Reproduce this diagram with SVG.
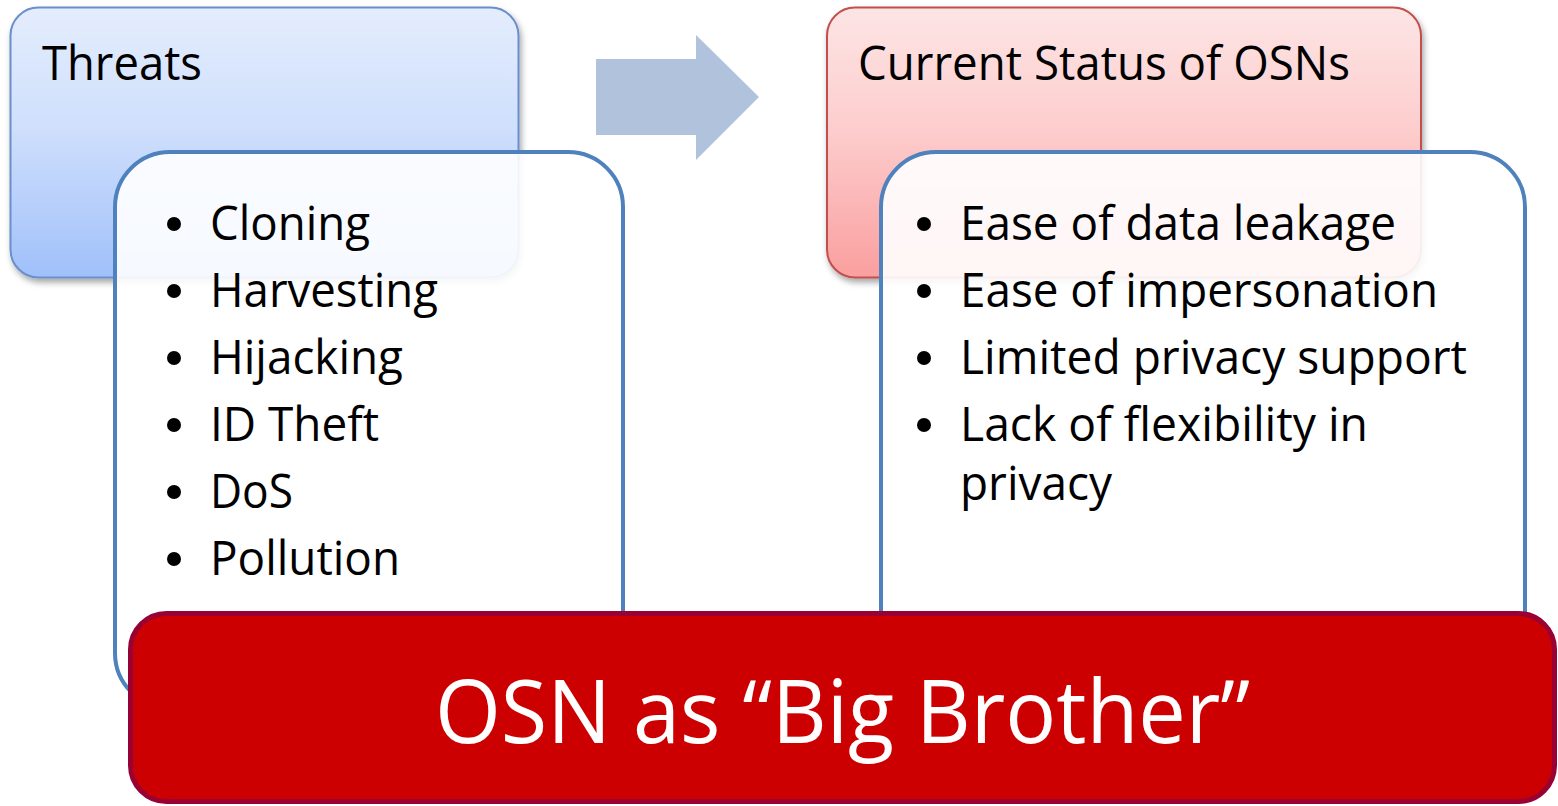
<svg xmlns="http://www.w3.org/2000/svg" width="1558" height="806" viewBox="0 0 1558 806">
  <defs>
    <linearGradient id="gradBlue" x1="0" y1="0" x2="0" y2="1">
      <stop offset="0" stop-color="#e4edfd"/>
      <stop offset="0.45" stop-color="#cfdffc"/>
      <stop offset="1" stop-color="#a0c0fa"/>
    </linearGradient>
    <linearGradient id="gradRed" x1="0" y1="0" x2="0" y2="1">
      <stop offset="0" stop-color="#fde5e5"/>
      <stop offset="0.45" stop-color="#fdcdcd"/>
      <stop offset="1" stop-color="#fa9f9f"/>
    </linearGradient>
    <filter id="shadow" x="-5%" y="-5%" width="112%" height="115%">
      <feDropShadow dx="2" dy="4" stdDeviation="3" flood-color="#000" flood-opacity="0.35"/>
    </filter>
  </defs>
  <style>
    .txt { font-family: "Open Sans", "Liberation Sans", sans-serif; fill: #000; }
    .head { font-size: 47px; }
    .item { font-size: 47px; }
    .big { font-family: "Open Sans", "Liberation Sans", sans-serif; font-size: 87px; fill: #fff; }
    .list { fill: #ffffff; fill-opacity: 0.9; stroke: #4f81bd; stroke-width: 4; }
    .dot { fill: #000; }
  </style>

  <!-- Threats header and its list -->
  <g id="threats">
    <rect x="10.5" y="7.5" width="508" height="270" rx="28" fill="url(#gradBlue)" stroke="#6a8fcb" stroke-width="2" filter="url(#shadow)"/>
    <text class="txt head" x="42" y="80" textLength="160" lengthAdjust="spacingAndGlyphs">Threats</text>
  </g>
  <g id="threats-list">
    <rect class="list" x="115" y="152" width="508" height="556" rx="55"/>
    <circle class="dot" cx="174" cy="224" r="7"/>
    <circle class="dot" cx="174" cy="291" r="7"/>
    <circle class="dot" cx="174" cy="358" r="7"/>
    <circle class="dot" cx="174" cy="425" r="7"/>
    <circle class="dot" cx="174" cy="492" r="7"/>
    <circle class="dot" cx="174" cy="559" r="7"/>
    <text class="txt item" x="210" y="240" textLength="160" lengthAdjust="spacingAndGlyphs">Cloning</text>
    <text class="txt item" x="210" y="307" textLength="228" lengthAdjust="spacingAndGlyphs">Harvesting</text>
    <text class="txt item" x="210" y="374" textLength="193" lengthAdjust="spacingAndGlyphs">Hijacking</text>
    <text class="txt item" x="210" y="441" textLength="169" lengthAdjust="spacingAndGlyphs">ID Theft</text>
    <text class="txt item" x="210" y="508" textLength="83" lengthAdjust="spacingAndGlyphs">DoS</text>
    <text class="txt item" x="210" y="575" textLength="190" lengthAdjust="spacingAndGlyphs">Pollution</text>
  </g>

  <!-- Current status header and its list -->
  <g id="status">
    <rect x="827" y="7.5" width="594" height="270" rx="28" fill="url(#gradRed)" stroke="#c0504d" stroke-width="2" filter="url(#shadow)"/>
    <text class="txt head" x="858" y="80" textLength="492" lengthAdjust="spacingAndGlyphs">Current Status of OSNs</text>
  </g>
  <g id="status-list">
    <rect class="list" x="881" y="152" width="644" height="556" rx="55"/>
    <circle class="dot" cx="924" cy="224" r="7"/>
    <circle class="dot" cx="924" cy="291" r="7"/>
    <circle class="dot" cx="924" cy="358" r="7"/>
    <circle class="dot" cx="924" cy="425" r="7"/>
    <text class="txt item" x="960" y="240" textLength="436" lengthAdjust="spacingAndGlyphs">Ease of data leakage</text>
    <text class="txt item" x="960" y="307" textLength="478" lengthAdjust="spacingAndGlyphs">Ease of impersonation</text>
    <text class="txt item" x="960" y="374" textLength="507" lengthAdjust="spacingAndGlyphs">Limited privacy support</text>
    <text class="txt item" x="960" y="441" textLength="408" lengthAdjust="spacingAndGlyphs">Lack of flexibility in</text>
    <text class="txt item" x="960" y="500" textLength="152" lengthAdjust="spacingAndGlyphs">privacy</text>
  </g>

  <!-- block arrow between the two headers -->
  <g id="connectors">
    <polygon points="596,59 696,59 696,35 759,97 696,160 696,135 596,135" fill="#b1c2dc"/>
  </g>

  <!-- conclusion banner -->
  <g id="big-brother">
    <rect x="130.5" y="613.5" width="1424" height="188" rx="36" fill="#cc0000" stroke="#990033" stroke-width="5"/>
    <text class="big" x="435" y="743" textLength="815" lengthAdjust="spacingAndGlyphs">OSN as “Big Brother”</text>
  </g>
</svg>
